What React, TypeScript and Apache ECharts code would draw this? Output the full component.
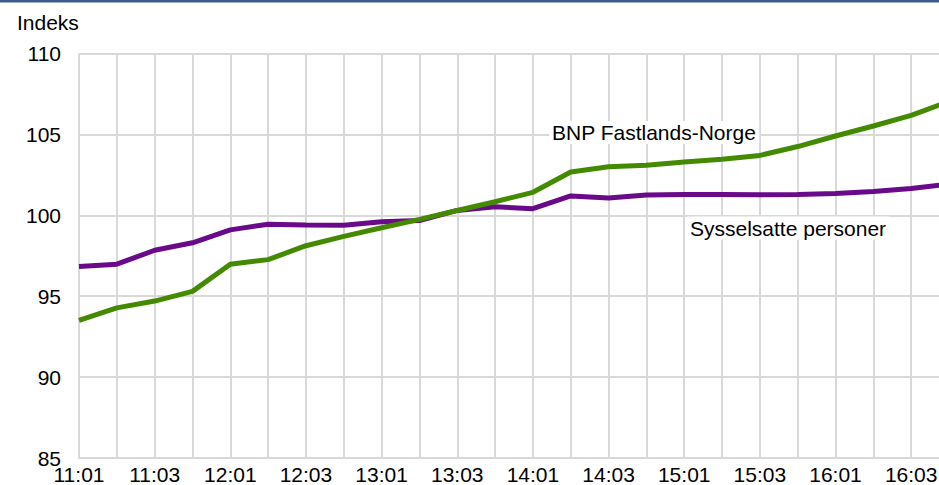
import React, { useEffect, useRef } from "react";
import * as echarts from "echarts";

const categories = [
  "11:01", "11:02", "11:03", "11:04",
  "12:01", "12:02", "12:03", "12:04",
  "13:01", "13:02", "13:03", "13:04",
  "14:01", "14:02", "14:03", "14:04",
  "15:01", "15:02", "15:03", "15:04",
  "16:01", "16:02", "16:03", "16:04",
];

const bnpFastland = [
  93.5, 94.28, 94.7, 95.3,
  96.98, 97.26, 98.12, 98.7,
  99.23, 99.75, 100.3, 100.84,
  101.42, 102.68, 103.0, 103.1,
  103.3, 103.46, 103.7, 104.25,
  104.9, 105.52, 106.18, 107.03,
];

const sysselsatte = [
  96.84, 96.98, 97.84, 98.3,
  99.1, 99.45, 99.4, 99.39,
  99.6, 99.68, 100.3, 100.53,
  100.41, 101.2, 101.07, 101.26,
  101.29, 101.29, 101.27, 101.29,
  101.35, 101.47, 101.65, 101.94,
];

const yMin = 85;
const yMax = 110;
const yInterval = 5;

const FONT = "'Liberation Sans', Arial, sans-serif";
const GRID_COLOR = "#D9D9D9";

export default function App() {
  const ref = useRef<HTMLDivElement>(null);

  useEffect(() => {
    document.body.style.margin = "0";
    if (!ref.current) return;
    const chart = echarts.init(ref.current, undefined, { renderer: "svg" });
    chart.setOption({
      animation: false,
      backgroundColor: "#FFFFFF",
      grid: {
        left: 79,
        top: 53.5,
        right: 0,
        bottom: 26.5,
        containLabel: false,
      },
      xAxis: {
        type: "category",
        data: categories,
        boundaryGap: false,
        axisLine: { show: true, lineStyle: { color: GRID_COLOR, width: 2 } },
        axisTick: { show: false },
        axisLabel: {
          interval: 1,
          color: "#000000",
          fontSize: 21,
          fontFamily: FONT,
          margin: 6,
        },
        splitLine: {
          show: true,
          interval: 0,
          lineStyle: { color: GRID_COLOR, width: 2 },
        },
      },
      yAxis: {
        type: "value",
        min: yMin,
        max: yMax,
        interval: yInterval,
        axisLine: { show: false },
        axisTick: { show: false },
        axisLabel: {
          color: "#000000",
          fontSize: 21,
          fontFamily: FONT,
          margin: 18,
        },
        splitLine: {
          show: true,
          lineStyle: { color: GRID_COLOR, width: 2 },
        },
      },
      series: [
        {
          name: "Sysselsatte personer",
          type: "line",
          data: sysselsatte,
          symbol: "none",
          lineStyle: { color: "#690A8A", width: 5 },
          z: 3,
        },
        {
          name: "BNP Fastlands-Norge",
          type: "line",
          data: bnpFastland,
          symbol: "none",
          lineStyle: { color: "#448A00", width: 5 },
          z: 4,
        },
      ],
      graphic: [
        {
          type: "rect",
          left: 0,
          top: 0,
          shape: { x: 0, y: 0, width: 949, height: 2.5 },
          style: { fill: "#3F5A8C" },
          z: 10,
        },
        {
          type: "text",
          x: 17,
          y: 22,
          style: {
            text: "Indeks",
            fill: "#000000",
            font: `21px ${FONT}`,
            textVerticalAlign: "middle",
          },
          z: 10,
        },
        {
          type: "text",
          x: 549,
          y: 132.5,
          style: {
            text: "BNP Fastlands-Norge",
            fill: "#000000",
            font: `21px ${FONT}`,
            textVerticalAlign: "middle",
            backgroundColor: "#FFFFFF",
            padding: [1, 3, 1, 3],
          },
          z: 10,
        },
        {
          type: "text",
          x: 687,
          y: 228,
          style: {
            text: "Sysselsatte personer",
            fill: "#000000",
            font: `21px ${FONT}`,
            textVerticalAlign: "middle",
            backgroundColor: "#FFFFFF",
            padding: [1, 3, 1, 3],
          },
          z: 10,
        },
      ],
    });
    return () => chart.dispose();
  }, []);

  return (
    <div
      style={{
        width: 939,
        height: 485,
        position: "absolute",
        left: 0,
        top: 0,
        overflow: "hidden",
      }}
    >
      <div ref={ref} style={{ width: 949, height: 485 }} />
    </div>
  );
}
